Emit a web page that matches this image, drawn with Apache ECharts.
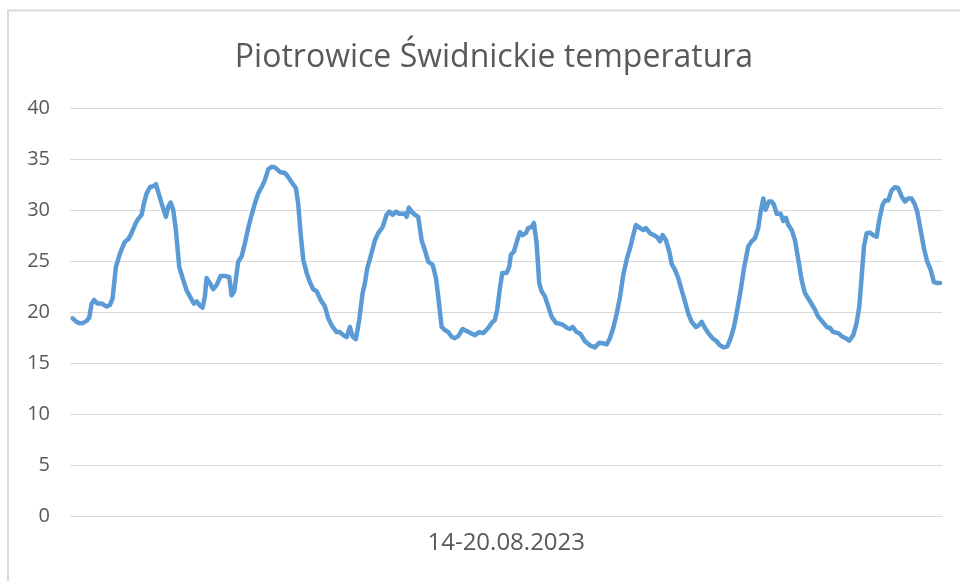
<!DOCTYPE html>
<html>
<head>
<meta charset="utf-8">
<script src="https://cdn.jsdelivr.net/npm/echarts@6/dist/echarts.min.js"></script>
<style>html,body{margin:0;padding:0;background:#fff;}#c{width:960px;height:581px;}</style>
</head>
<body>
<div id="c"></div>
<script>
const titleText = "Piotrowice Świdnickie temperatura";
const periodLabel = "14-20.08.2023";
const yTicks = [0, 5, 10, 15, 20, 25, 30, 35, 40];
// hour since start of 14.08.2023
const hours = [0,0.77,1.41,2.04,2.70,3.20,3.66,4.16,4.74,5.58,6.55,7.18,7.70,8.34,9.11,10.07,10.71,11.17,11.55,12.19,12.63,13.29,13.73,14.25,14.89,15.52,16.04,16.68,17.33,17.97,18.41,18.87,19.37,19.89,20.53,21.18,21.95,22.78,23.36,23.88,24.51,25.03,25.48,25.80,26.44,27.07,27.73,28.50,29.33,30.16,30.62,31.12,31.89,32.54,33.18,33.82,34.47,35.10,35.74,36.59,37.03,37.67,38.32,38.96,39.92,40.88,41.52,42.17,43.00,43.44,43.90,44.41,45.06,45.70,46.33,46.99,47.76,48.59,49.22,50.07,50.84,51.47,52.11,52.76,53.40,53.92,54.55,55.19,55.84,56.29,56.73,57.38,58.21,58.85,59.70,60.46,60.97,61.62,62.26,62.89,63.99,64.32,64.76,65.28,65.92,66.55,67.21,67.84,68.48,69.32,69.96,70.40,71.06,71.69,72.33,72.98,73.62,74.25,75.10,75.87,76.64,77.47,78.30,79.07,80.03,80.69,81.32,81.76,82.28,82.73,83.57,84.07,84.40,84.98,85.61,86.13,86.65,87.29,87.73,88.39,88.83,89.35,89.85,90.31,90.95,91.59,92.24,93.07,93.84,94.47,95.24,95.76,96.28,97.05,97.82,98.65,99.61,100.58,101.40,102.06,102.83,103.46,104.10,104.76,105.39,106.03,106.68,107.32,107.95,108.47,109.24,109.88,110.40,111.17,111.94,112.58,113.10,113.62,114.25,114.89,115.35,115.99,116.62,117.28,117.91,118.55,119.20,120.03,120.67,121.13,121.76,122.40,123.24,124.01,124.65,125.42,126.06,126.71,127.35,127.98,128.64,129.27,130.10,130.75,131.39,132.02,132.49,132.99,133.45,134.09,134.61,135.05,135.57,136.34,136.84,137.36,137.81,138.46,139.10,139.73,140.38,141.02,141.65,142.31,142.94,143.58,144.42,145.19,145.83,146.46,147.43,148.08,148.85,149.55,150.32,150.97,151.47,151.93,152.38,152.90,153.53,154.17,154.82,155.32,155.98,156.42,157.05,157.71,158.34,158.98,159.63,160.27,160.90,161.56,162.19,162.64,163.29,163.93,164.56,165.22,165.85,166.49,167.01];
const temps = [19.45,19.1,18.96,19.0,19.2,19.5,20.9,21.25,20.9,20.9,20.6,20.75,21.4,24.5,25.8,26.96,27.2,27.6,27.7,28.8,29.2,29.6,30.7,31.7,32.3,32.4,32.6,31.5,30.4,29.4,30.4,30.8,30.1,28.1,24.5,23.4,22.2,21.4,20.9,21.1,20.7,20.5,21.6,23.4,22.9,22.3,22.7,23.6,23.6,23.5,21.7,22.1,25.0,25.5,26.8,28.3,29.6,30.7,31.7,32.5,33.0,34.06,34.3,34.25,33.8,33.7,33.3,32.8,32.2,30.7,27.8,25.2,23.9,23.0,22.3,22.1,21.25,20.6,19.45,18.6,18.1,18.1,17.8,17.6,18.6,17.65,17.4,19.3,21.9,22.9,24.35,25.5,27.1,27.8,28.4,29.6,29.9,29.6,29.9,29.7,29.7,29.4,30.3,29.9,29.6,29.4,27.1,26.1,25.0,24.7,23.4,21.6,18.6,18.3,18.1,17.65,17.5,17.7,18.4,18.2,18.0,17.8,18.1,18.0,18.5,19.0,19.3,20.3,22.4,23.9,23.9,24.5,25.7,26.0,27.1,27.9,27.6,27.8,28.3,28.4,28.8,26.8,22.9,22.1,21.6,20.6,19.6,19.0,18.9,18.8,18.5,18.4,18.6,18.1,17.9,17.2,16.8,16.6,17.05,17.0,16.9,17.5,18.5,19.9,21.5,23.7,25.2,26.3,27.6,28.6,28.3,28.1,28.3,27.8,27.6,27.4,27.0,27.6,27.1,26.0,24.8,24.2,23.4,22.2,21.1,19.9,19.1,18.6,18.8,19.1,18.5,18.0,17.5,17.2,16.8,16.6,16.7,17.5,18.6,20.3,22.2,24.35,26.5,27.0,27.3,28.3,29.9,31.2,30.1,30.9,30.9,30.6,29.7,29.7,29.0,29.3,28.6,28.1,27.1,25.2,23.2,21.9,21.4,20.85,20.3,19.6,19.1,18.6,18.5,18.1,18.0,17.7,17.5,17.25,17.8,19.0,20.6,23.5,26.5,27.8,27.85,27.6,27.45,29.1,30.6,31.0,31.0,32.0,32.3,32.2,31.4,30.9,31.2,31.2,30.6,29.9,28.1,26.3,25.0,24.2,23.0,22.9,22.9];

const seriesData = hours.map((h, i) => [h, temps[i]]);
const chart = echarts.init(document.getElementById('c'), null, {renderer: 'canvas'});
const font = '"Open Sans", "Noto Sans", sans-serif';
chart.setOption({
  backgroundColor: '#ffffff',
  animation: false,
  title: {
    text: titleText,
    left: 489, textAlign: 'center',
    top: 37,
    textStyle: {color: '#595959', fontSize: 32, fontWeight: 'normal', fontFamily: font}
  },
  graphic: [{
    type: 'rect', silent: true,
    shape: {x: 8, y: 10.5, width: 1200, height: 1000},
    style: {fill: 'none', stroke: '#d9d9d9', lineWidth: 2}
  }],
  grid: {left: 70, right: 17.5, top: 108.7, bottom: 581 - 516.7, containLabel: false},
  xAxis: {
    type: 'value', min: -0.5, max: 167.5,
    name: periodLabel, nameLocation: 'middle', nameGap: 14,
    nameTextStyle: {color: '#595959', fontSize: 24, fontFamily: font},
    axisLine: {show: false}, axisTick: {show: false}, axisLabel: {show: false}, splitLine: {show: false}
  },
  yAxis: {
    type: 'value', min: yTicks[0], max: yTicks[yTicks.length - 1], interval: 5,
    axisLine: {show: false}, axisTick: {show: false},
    axisLabel: {color: '#595959', fontSize: 20, fontFamily: font, margin: 20},
    splitLine: {lineStyle: {color: '#d9d9d9', width: 1}}
  },
  series: [{
    type: 'line', data: seriesData, showSymbol: false, smooth: false,
    lineStyle: {color: '#5b9bd5', width: 4.5, join: 'round', cap: 'round'},
    itemStyle: {color: '#5b9bd5'}
  }]
});
</script>
</body>
</html>
